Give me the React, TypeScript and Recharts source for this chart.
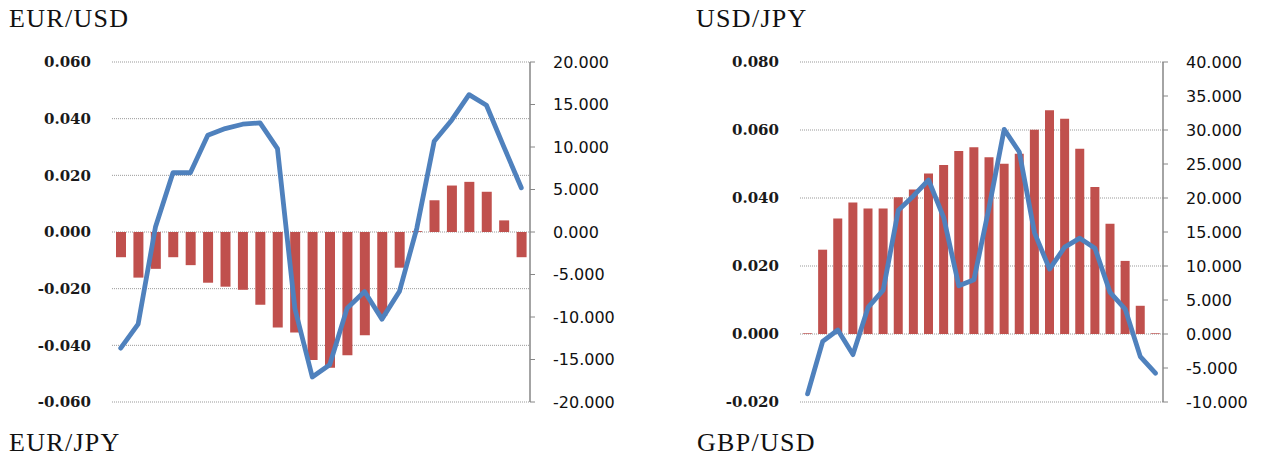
import { Bar, CartesianGrid, ComposedChart, Line, XAxis, YAxis } from "recharts";

const categories = [
  "1", "2", "3", "4", "5", "6", "7", "8", "9", "10", "11", "12",
  "13", "14", "15", "16", "17", "18", "19", "20", "21", "22", "23", "24",
];

// EUR/USD: bars on left axis, line on right axis
const eurUsdBars = [
  -0.0089, -0.0161, -0.013, -0.0089, -0.0117, -0.0179, -0.0193, -0.0204,
  -0.0257, -0.0337, -0.0355, -0.0452, -0.0479, -0.0435, -0.0364, -0.0296,
  -0.0126, 0.0003, 0.0112, 0.0164, 0.0177, 0.0142, 0.0041, -0.0089,
];
const eurUsdLine = [
  -13.66, -10.84, 0.63, 6.97, 6.97, 11.39, 12.17, 12.68,
  12.84, 9.82, -9.0, -17.06, -15.62, -8.96, -7.01, -10.25,
  -7.01, 0.43, 10.68, 13.15, 16.16, 14.91, 10.02, 5.21,
];

// USD/JPY
const usdJpyBars = [
  0.0002, 0.0248, 0.034, 0.0387, 0.0369, 0.0369, 0.0402, 0.0425,
  0.0472, 0.0497, 0.0538, 0.0549, 0.052, 0.0501, 0.053, 0.0601,
  0.0658, 0.0633, 0.0545, 0.0432, 0.0324, 0.0215, 0.0083, 0.0002,
];
const usdJpyLine = [
  -8.81, -1.08, 0.59, -3.03, 3.91, 6.46, 18.2, 20.3,
  22.65, 17.12, 7.09, 7.97, 18.6, 30.1, 26.76, 14.92,
  9.54, 12.77, 14.09, 12.62, 6.12, 3.67, -3.33, -5.77,
];

const eurUsdLeftTicks = [-0.06, -0.04, -0.02, 0, 0.02, 0.04, 0.06];
const eurUsdRightTicks = [-20, -15, -10, -5, 0, 5, 10, 15, 20];
const usdJpyLeftTicks = [-0.02, 0, 0.02, 0.04, 0.06, 0.08];
const usdJpyRightTicks = [-10, -5, 0, 5, 10, 15, 20, 25, 30, 35, 40];

const BAR_COLOR = "#C0504D";
const LINE_COLOR = "#4F81BD";
const AXIS_COLOR = "#868686";

const titleStyle: React.CSSProperties = {
  position: "absolute",
  fontFamily: "'Liberation Serif', serif",
  fontSize: 26,
  lineHeight: "26px",
  letterSpacing: 1.3,
  color: "#111",
  whiteSpace: "nowrap",
};

function PairChart({
  bars,
  line,
  leftTicks,
  rightTicks,
  leftAxisWidth,
  rightAxisWidth,
  width,
  barSize,
}: {
  bars: number[];
  line: number[];
  leftTicks: number[];
  rightTicks: number[];
  leftAxisWidth: number;
  rightAxisWidth: number;
  width: number;
  barSize: number;
}) {
  const data = categories.map((c, i) => ({ name: c, bar: bars[i], line: line[i] }));
  return (
    <ComposedChart
      width={width}
      height={457}
      data={data}
      margin={{ top: 62, right: 0, bottom: 55, left: 0 }}
      barCategoryGap={0}
    >
      <CartesianGrid
        yAxisId="left"
        vertical={false}
        stroke="#999"
        strokeDasharray="1 1"
      />
      <XAxis dataKey="name" hide />
      <YAxis
        yAxisId="left"
        orientation="left"
        width={leftAxisWidth}
        domain={[leftTicks[0], leftTicks[leftTicks.length - 1]]}
        ticks={leftTicks}
        interval={0}
        axisLine={false}
        tickLine={false}
        tickSize={0}
        tickMargin={21}
        tickFormatter={(v) => Number(v).toFixed(3)}
        tick={{ fill: "#1a1a1a", fontSize: 15, fontWeight: "bold", fontFamily: "'DejaVu Serif', serif" }}
      />
      <YAxis
        yAxisId="right"
        orientation="right"
        width={rightAxisWidth}
        domain={[rightTicks[0], rightTicks[rightTicks.length - 1]]}
        ticks={rightTicks}
        interval={0}
        axisLine={{ stroke: AXIS_COLOR, strokeWidth: 1.5 }}
        tickLine={{ stroke: AXIS_COLOR, strokeWidth: 1 }}
        tickSize={5}
        tickMargin={18}
        tickFormatter={(v) => Number(v).toFixed(3)}
        tick={{ fill: "#111", fontSize: 16, fontFamily: "'DejaVu Sans', sans-serif" }}
      />
      <Bar yAxisId="left" dataKey="bar" fill={BAR_COLOR} barSize={barSize} isAnimationActive={false} />
      <Line
        yAxisId="right"
        type="linear"
        dataKey="line"
        stroke={LINE_COLOR}
        strokeWidth={4.8}
        strokeLinejoin="round"
        strokeLinecap="round"
        dot={false}
        activeDot={false}
        isAnimationActive={false}
      />
    </ComposedChart>
  );
}

export default function App() {
  return (
    <div style={{ position: "absolute", left: 0, top: 0, width: 1266, height: 457, background: "#fff", overflow: "hidden" }}>
      <div style={{ position: "absolute", left: 0, top: 0 }}>
        <PairChart
          bars={eurUsdBars}
          line={eurUsdLine}
          leftTicks={eurUsdLeftTicks}
          rightTicks={eurUsdRightTicks}
          leftAxisWidth={112}
          rightAxisWidth={110}
          width={640}
          barSize={10}
        />
      </div>
      <div style={{ position: "absolute", left: 640, top: 0 }}>
        <PairChart
          bars={usdJpyBars}
          line={usdJpyLine}
          leftTicks={usdJpyLeftTicks}
          rightTicks={usdJpyRightTicks}
          leftAxisWidth={160}
          rightAxisWidth={103}
          width={626}
          barSize={9}
        />
      </div>
      <div style={{ ...titleStyle, left: 9, top: 6 }}>EUR/USD</div>
      <div style={{ ...titleStyle, left: 696, top: 6 }}>USD/JPY</div>
      <div style={{ ...titleStyle, left: 9, top: 430 }}>EUR/JPY</div>
      <div style={{ ...titleStyle, left: 697, top: 430 }}>GBP/USD</div>
    </div>
  );
}
